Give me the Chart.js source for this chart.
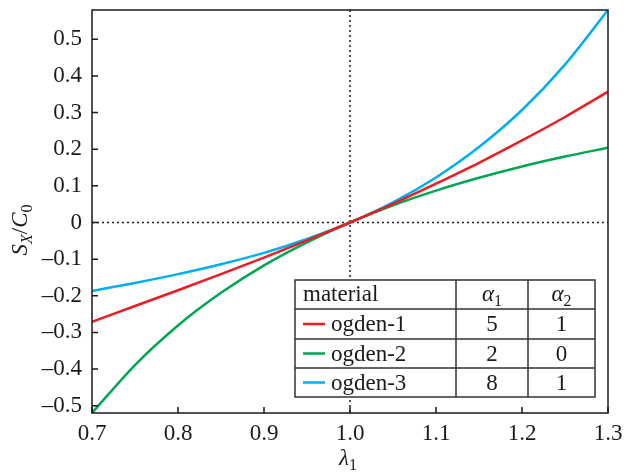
<!DOCTYPE html>
<html>
<head>
  <title>Ogden stress curves</title>
  <style>
    body { margin: 0; background: #fff; }
    #chart { display: block; }
  </style>
</head>
<body>
  <canvas id="chart" width="626" height="473"></canvas>

  <script src="https://cdn.jsdelivr.net/npm/chart.js@4.4.0/dist/chart.umd.js"></script>
  <script>
    // stretch values and S_X/C_0
    const lambda = [0.70, 0.75, 0.80, 0.85, 0.90, 0.95, 1.00, 1.05, 1.10, 1.15, 1.20, 1.25, 1.30];
    const ogden1 = [-0.271, -0.228, -0.185, -0.141, -0.096, -0.049, 0, 0.051, 0.106, 0.163, 0.224, 0.288, 0.357];
    const ogden2 = [-0.520, -0.389, -0.281, -0.192, -0.117, -0.054, 0, 0.047, 0.087, 0.122, 0.153, 0.180, 0.204];
    const ogden3 = [-0.187, -0.165, -0.141, -0.114, -0.083, -0.045, 0, 0.055, 0.123, 0.206, 0.307, 0.431, 0.580];

    const xTicks = [0.7, 0.8, 0.9, 1.0, 1.1, 1.2, 1.3];
    const yTicks = [-0.5, -0.4, -0.3, -0.2, -0.1, 0, 0.1, 0.2, 0.3, 0.4, 0.5];

    // legend table
    const materials = ['ogden-1', 'ogden-2', 'ogden-3'];
    const alpha1 = [5, 2, 8];
    const alpha2 = [1, 0, 1];

    const colors = ['#ed1c24', '#00a651', '#00aeef'];
    const FONT = '"Liberation Serif", "DejaVu Serif", serif';
    const INK = '#1a1a1a';
    const SIZE = 23;

    function pts(ys) {
      return lambda.map((x, i) => ({ x: x, y: ys[i] }));
    }

    function fmt(v) {
      if (Math.abs(v) < 1e-9) return '0';
      const s = Math.abs(v).toFixed(1);
      return v < 0 ? '\u2013' + s : s;
    }

    // draw text made of parts, some italic, some subscript
    function richText(ctx, parts, x, y, align) {
      const subSize = 16;
      let w = 0;
      parts.forEach(p => {
        ctx.font = (p.it ? 'italic ' : '') + (p.sub ? subSize : SIZE) + 'px ' + FONT;
        p.w = ctx.measureText(p.t).width;
        w += p.w;
      });
      let cx = align === 'center' ? x - w / 2 : x;
      ctx.textAlign = 'left';
      ctx.textBaseline = 'alphabetic';
      parts.forEach(p => {
        ctx.font = (p.it ? 'italic ' : '') + (p.sub ? subSize : SIZE) + 'px ' + FONT;
        ctx.fillText(p.t, cx, y + (p.sub ? 5 : 0));
        cx += p.w;
      });
    }

    const decor = {
      id: 'decor',
      beforeDatasetsDraw(chart) {
        const { ctx, chartArea: a, scales: { x, y } } = chart;
        ctx.save();
        ctx.strokeStyle = INK;
        ctx.lineWidth = 1.5;
        ctx.setLineDash([2, 3]);
        const x1 = x.getPixelForValue(1.0);
        const y0 = y.getPixelForValue(0);
        ctx.beginPath();
        ctx.moveTo(x1, a.top); ctx.lineTo(x1, a.bottom);
        ctx.moveTo(a.left, y0); ctx.lineTo(a.right, y0);
        ctx.stroke();
        ctx.restore();
      },
      afterDraw(chart) {
        const { ctx, chartArea: a, scales: { x, y } } = chart;
        ctx.save();

        // frame and inward ticks
        ctx.strokeStyle = INK;
        ctx.lineWidth = 1.5;
        ctx.strokeRect(a.left, a.top, a.right - a.left, a.bottom - a.top);
        ctx.beginPath();
        yTicks.forEach(v => {
          const py = y.getPixelForValue(v);
          ctx.moveTo(a.left, py); ctx.lineTo(a.left + 6, py);
        });
        xTicks.forEach(v => {
          const px = x.getPixelForValue(v);
          ctx.moveTo(px, a.bottom); ctx.lineTo(px, a.bottom - 6);
        });
        ctx.stroke();

        // legend table
        const tl = 295, tr = 595, tt = 280, tb = 397;
        const c1 = 456, c2 = 528;
        const rows = [tt, 309, 339, 368, tb];
        ctx.fillStyle = '#fff';
        ctx.fillRect(tl, tt, tr - tl, tb - tt);
        ctx.strokeStyle = '#333';
        ctx.lineWidth = 1.5;
        ctx.strokeRect(tl, tt, tr - tl, tb - tt);
        ctx.beginPath();
        rows.slice(1, 4).forEach(r => { ctx.moveTo(tl, r); ctx.lineTo(tr, r); });
        ctx.moveTo(c1, tt); ctx.lineTo(c1, tb);
        ctx.moveTo(c2, tt); ctx.lineTo(c2, tb);
        ctx.stroke();

        ctx.fillStyle = INK;
        const m1 = (c1 + c2) / 2, m2 = (c2 + tr) / 2;
        richText(ctx, [{ t: 'material' }], 303, 301, 'left');
        richText(ctx, [{ t: '\u03b1', it: true }, { t: '1', sub: true }], m1, 301, 'center');
        richText(ctx, [{ t: '\u03b1', it: true }, { t: '2', sub: true }], m2, 301, 'center');
        materials.forEach((name, i) => {
          const mid = (rows[i + 1] + rows[i + 2]) / 2;
          const base = mid + 7;
          ctx.strokeStyle = colors[i];
          ctx.lineWidth = 2.5;
          ctx.beginPath();
          ctx.moveTo(303, mid); ctx.lineTo(325, mid);
          ctx.stroke();
          ctx.fillStyle = INK;
          richText(ctx, [{ t: name }], 331, base, 'left');
          richText(ctx, [{ t: String(alpha1[i]) }], m1, base, 'center');
          richText(ctx, [{ t: String(alpha2[i]) }], m2, base, 'center');
        });

        // axis titles
        richText(ctx, [{ t: '\u03bb', it: true }, { t: '1', sub: true }], (a.left + a.right) / 2 - 2, 465, 'center');
        ctx.translate(27, 230);
        ctx.rotate(-Math.PI / 2);
        richText(ctx, [
          { t: 'S', it: true }, { t: 'X', it: true, sub: true },
          { t: '/' }, { t: 'C', it: true }, { t: '0', sub: true }
        ], 0, 0, 'center');
        ctx.restore();
      }
    };

    const ctx = document.getElementById('chart').getContext('2d');
    new Chart(ctx, {
      type: 'line',
      data: {
        datasets: materials.map((name, i) => ({
          label: name,
          data: pts([ogden1, ogden2, ogden3][i]),
          borderColor: colors[i],
          borderWidth: 2.5,
          pointRadius: 0,
          fill: false,
          cubicInterpolationMode: 'monotone'
        }))
      },
      options: {
        responsive: false,
        animation: false,
        layout: { padding: { top: 10, right: 18, left: 0, bottom: 0 } },
        plugins: { legend: { display: false }, tooltip: { enabled: false } },
        scales: {
          x: {
            type: 'linear',
            min: 0.7,
            max: 1.3,
            afterBuildTicks: s => { s.ticks = xTicks.map(v => ({ value: v })); },
            afterFit: s => { s.height = 60; s.paddingLeft = 0; s.paddingRight = 0; },
            grid: { display: false, tickLength: 0 },
            border: { display: false },
            ticks: {
              padding: 7,
              color: INK,
              font: { family: FONT, size: SIZE },
              maxRotation: 0,
              callback: v => v.toFixed(1)
            }
          },
          y: {
            min: -0.52,
            max: 0.58,
            afterBuildTicks: s => { s.ticks = yTicks.map(v => ({ value: v })); },
            afterFit: s => { s.width = 92; s.paddingTop = 0; s.paddingBottom = 0; },
            grid: { display: false, tickLength: 0 },
            border: { display: false },
            ticks: {
              padding: 10,
              color: INK,
              font: { family: FONT, size: SIZE },
              callback: v => fmt(v)
            }
          }
        }
      },
      plugins: [decor]
    });
  </script>
</body>
</html>
